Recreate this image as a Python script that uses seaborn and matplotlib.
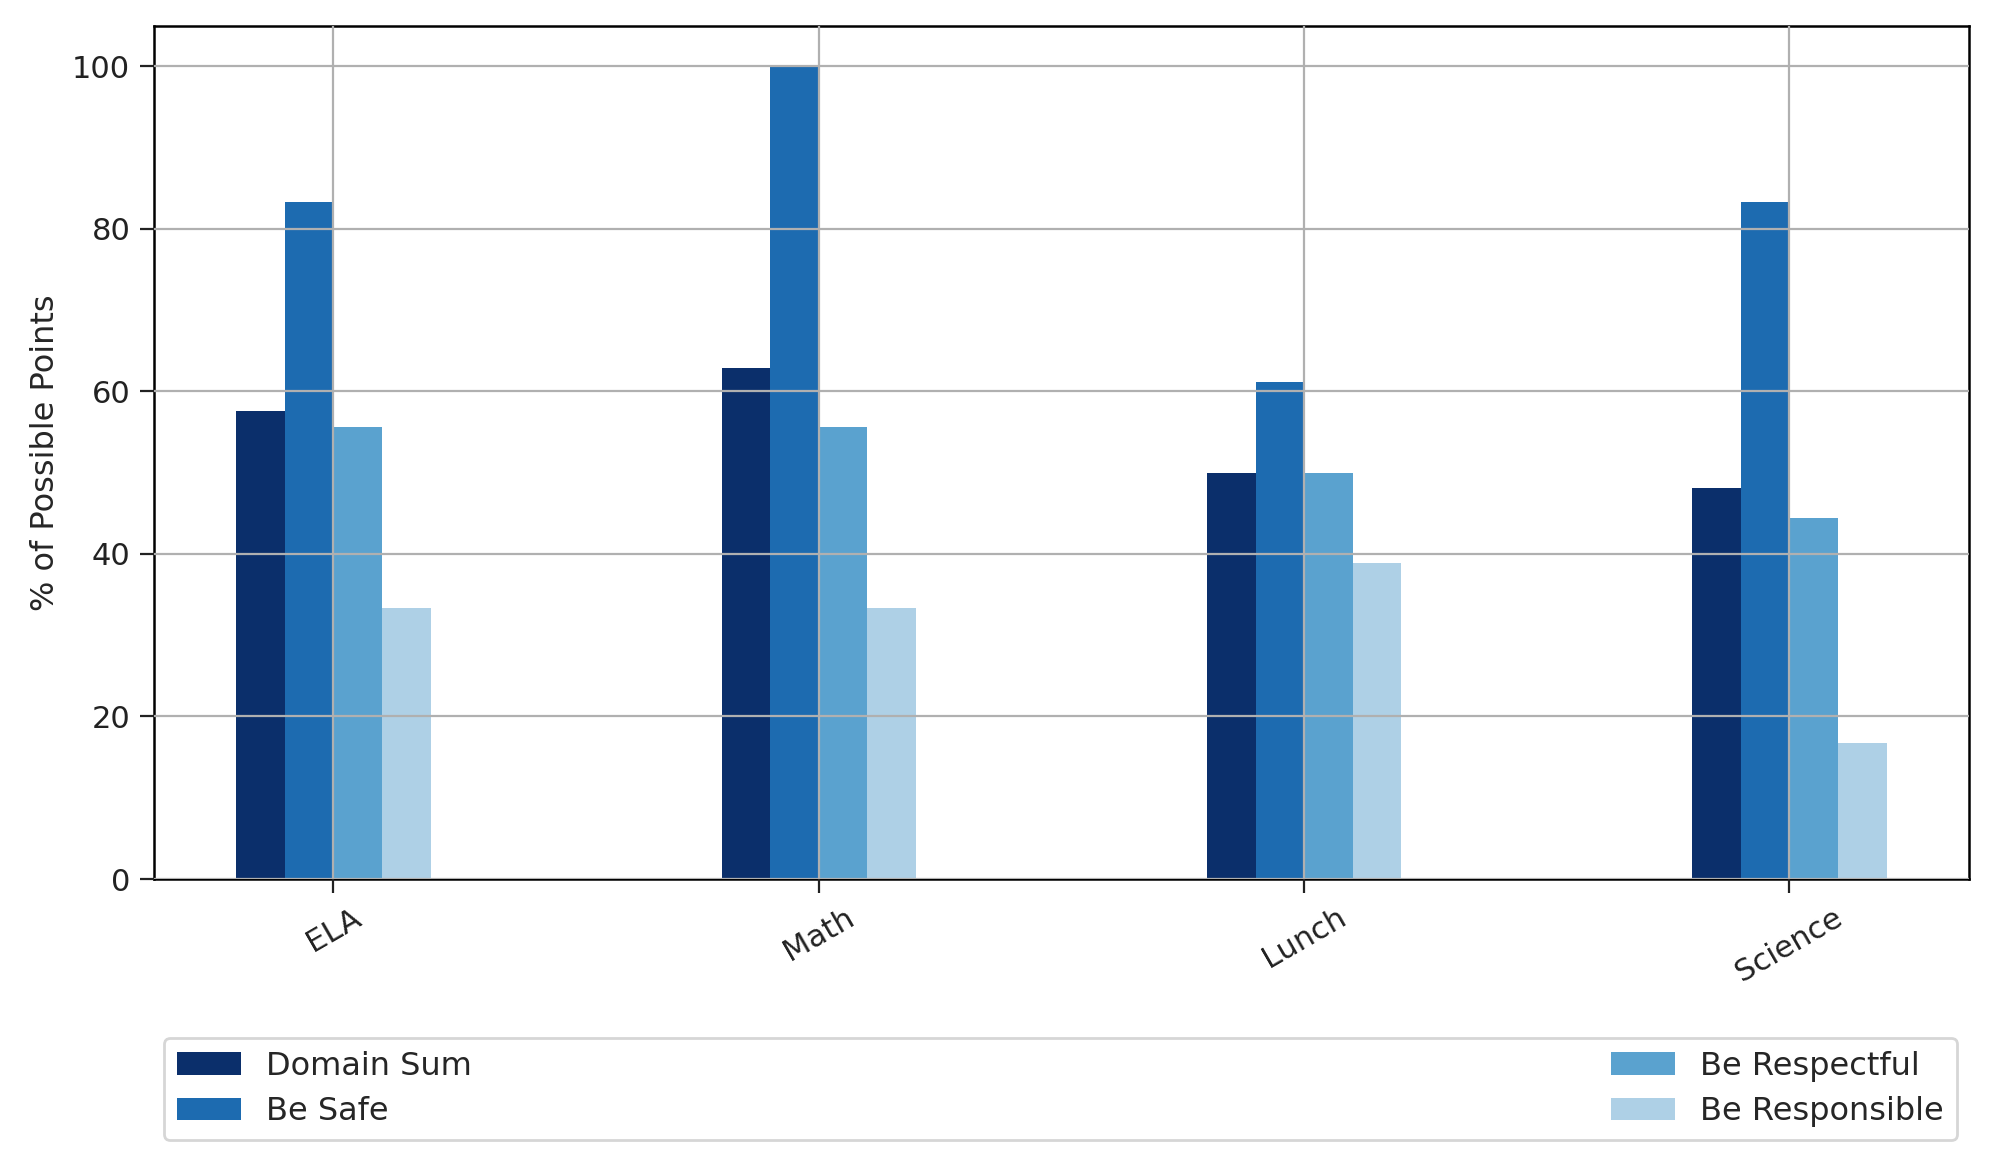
import pandas as pd
import matplotlib
matplotlib.use('Agg')
import matplotlib.pyplot as plt
import seaborn as sns

# Chart data
subjects = ['ELA', 'Math', 'Lunch', 'Science']
domains = ['Domain Sum', 'Be Safe', 'Be Respectful', 'Be Responsible']
domain_sum = [57.6, 62.9, 50.0, 48.1]
be_safe = [83.3, 100.0, 61.1, 83.3]
be_respectful = [55.6, 55.6, 50.0, 44.4]
be_responsible = [33.3, 33.3, 38.9, 16.7]
colors = ['#0b2f6b', '#1d6bb0', '#5aa2cf', '#aed0e6']

# Long format for seaborn
rows = []
for name, vals in zip(domains, [domain_sum, be_safe, be_respectful, be_responsible]):
    for subj, v in zip(subjects, vals):
        rows.append({'Subject': subj, 'Domain': name, 'Pct': v})
df = pd.DataFrame(rows)

sns.set_style('white')
plt.rcParams['font.family'] = ['DejaVu Sans']

fig = plt.figure(figsize=(9.995, 5.84), dpi=200)
ax = fig.add_axes([0.077, 0.2474, 0.908, 0.7306])

sns.barplot(data=df, x='Subject', y='Pct', hue='Domain', order=subjects,
            hue_order=domains, palette=colors, width=0.4, gap=0,
            linewidth=0, saturation=1, errorbar=None, ax=ax)

ax.set_xlim(-0.37, 3.37)
ax.set_ylim(0, 105)
ax.set_yticks([0, 20, 40, 60, 80, 100])
ax.set_xlabel('')
ax.set_ylabel('% of Possible Points', fontsize=11.5)
ax.tick_params(axis='both', labelsize=11, length=5, width=0.8, direction='out',
               bottom=True, left=True, colors='#222222')
plt.setp(ax.get_xticklabels(), rotation=30)

ax.set_axisbelow(False)
ax.grid(True, color='#b0b0b0', linewidth=0.8)
for s in ax.spines.values():
    s.set_color('black')
    s.set_linewidth(0.9)

ax.legend(loc='center', ncol=2, mode='expand', fontsize=11.5,
          bbox_to_anchor=(0.082, 0.0214, 0.897, 0.0926),
          bbox_transform=fig.transFigure, frameon=True, fancybox=True,
          edgecolor='#cccccc', handlelength=2.0, handleheight=0.7,
          labelspacing=0.45, borderaxespad=0)

fig.savefig('out.png', dpi=200)
